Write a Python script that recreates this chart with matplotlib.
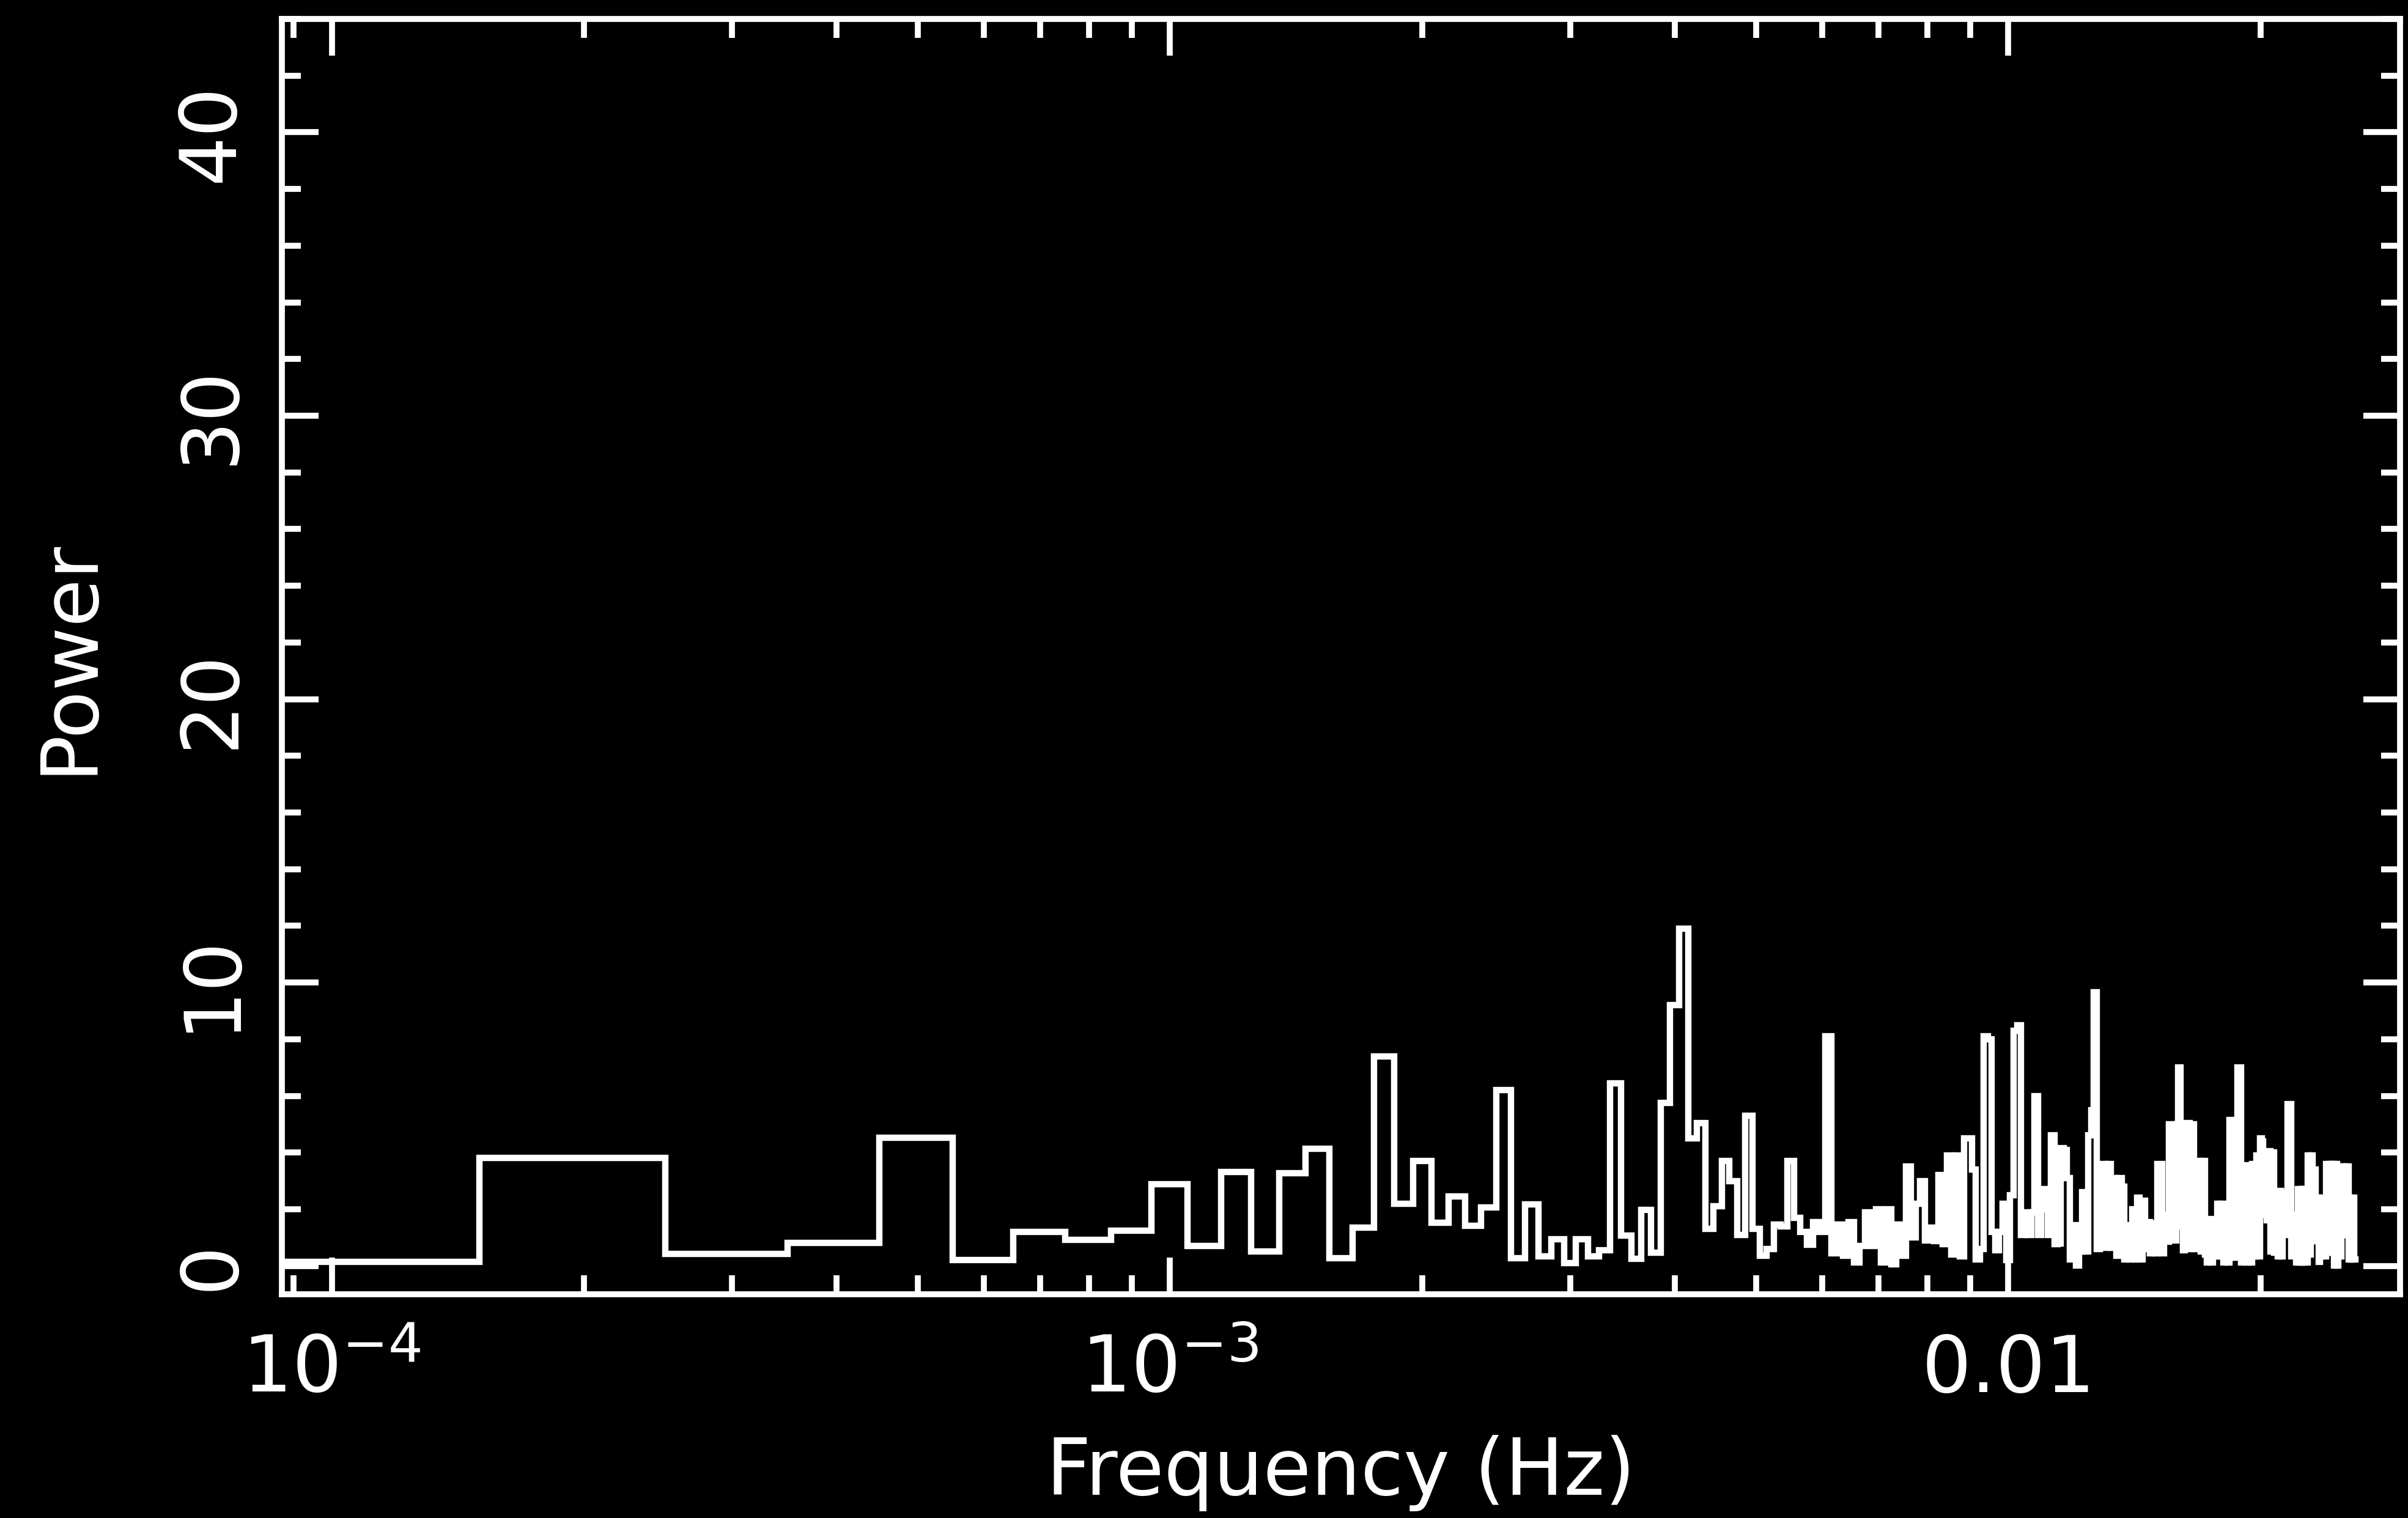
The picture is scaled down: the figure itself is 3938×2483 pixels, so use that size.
import numpy as np
import matplotlib.pyplot as plt
from matplotlib.ticker import FixedLocator, LogLocator, MultipleLocator, NullFormatter

plt.rcParams['font.family'] = ['DejaVu Sans']
plt.rcParams['mathtext.fontset'] = 'dejavusans'

# periodogram, frequency bins k * df (k = 1..259)
df = 1e-4

power_low = [0.15, 3.81, 0.42, 0.82, 4.53, 0.21, 1.20, 0.93, 1.25, 2.89,
             0.71, 3.32, 0.50, 3.27, 4.14, 0.28, 1.36, 7.39, 2.20, 3.70,
             1.52, 2.45, 1.41, 2.06, 6.21, 0.27, 2.18, 0.33, 0.95, 0.11,
             0.95, 0.33, 0.55, 6.44, 1.08, 0.25, 1.97, 0.47, 5.76, 9.20,
             11.91, 4.50, 5.05]

power_mid = [1.30, 2.10, 3.70, 3.00, 1.10, 5.30, 1.30, 0.35, 0.60, 1.45,
             1.40, 3.70, 1.70, 1.20, 0.75, 1.55, 1.20, 8.10, 0.45, 1.45,
             0.35, 1.55, 0.12, 0.70, 1.90, 0.70, 2.00, 0.12, 2.00, 0.05,
             1.45, 0.35, 3.50, 1.00, 2.20, 3.00, 0.90, 1.35, 0.87, 3.20,
             0.76, 3.90, 0.40, 3.90, 0.33, 4.50, 4.50, 3.40, 0.22, 0.60,
             8.10, 8.00, 1.20, 0.55, 1.20, 2.20, 0.20]

power_high = [2.50, 8.30, 8.50, 1.10, 1.90, 1.10, 1.90, 6.00, 1.10, 2.70,
              2.00, 1.10, 4.60, 0.76, 0.80, 4.15, 4.10, 3.10, 0.22, 1.44,
              0.01, 0.50, 2.60, 0.50, 4.60, 5.50, 9.65, 0.60, 2.00, 3.60,
              0.65, 3.60, 0.65, 3.10, 0.35, 3.10, 2.80, 0.22, 1.44, 0.22,
              2.00, 0.22, 2.40, 0.22, 2.30, 0.60, 1.55, 0.44, 1.50, 0.44,
              3.60, 3.60, 0.44, 1.80, 0.85, 5.00, 5.00, 0.90, 5.00, 7.00,
              1.40, 0.55, 5.05, 5.05, 0.60, 5.00, 0.60, 2.90, 3.70, 0.50,
              3.70, 0.40, 0.12, 1.65, 0.12, 1.60, 0.33, 2.20, 0.33, 2.20]

power_top = [0.12, 2.10, 0.12, 5.15, 0.30, 5.10, 0.30, 7.00, 7.00, 0.12,
             3.50, 3.55, 0.12, 3.50, 0.12, 3.60, 0.33, 3.90, 0.33, 4.50,
             4.40, 1.80, 4.00, 1.60, 4.05, 0.50, 4.00, 0.47, 2.30, 0.33,
             2.65, 0.33, 2.60, 1.10, 1.10, 5.70, 5.70, 0.33, 0.33, 1.80,
             0.12, 2.70, 0.12, 2.70, 0.12, 2.70, 0.12, 3.90, 0.40, 3.90,
             0.87, 3.40, 0.87, 2.40, 0.15, 2.40, 0.33, 2.30, 0.33, 3.60,
             0.47, 3.60, 0.47, 3.60, 0.01, 3.60, 0.01, 3.00, 0.33, 3.50,
             1.10, 3.50, 1.10, 3.50, 0.22, 2.40, 0.22, 2.40, 0.22]

xtick_vals = [1e-4, 1e-3, 1e-2]
xtick_labels = [r'$\mathregular{10^{-4}}$', r'$\mathregular{10^{-3}}$', '0.01']

power = np.array(power_low + power_mid + power_high + power_top)
freq = np.arange(1, len(power) + 1) * df
edges = np.append(freq - df / 2, freq[-1] + df / 2)

fig = plt.figure(figsize=(39.38, 24.83), dpi=100, facecolor='black')
ax = fig.add_axes([0.11706, 0.1474, 0.87964, 0.84012])
ax.set_facecolor('black')

ax.stairs(power, edges, baseline=None, color='white', linewidth=7.5,
          joinstyle='miter', capstyle='projecting')

ax.set_xscale('log')
ax.set_xlim(8.72e-5, 0.02933)
ax.set_ylim(-1, 44)

ax.xaxis.set_major_locator(FixedLocator(xtick_vals))
ax.set_xticklabels(xtick_labels)
ax.xaxis.set_minor_locator(LogLocator(base=10, subs=np.arange(2, 10), numticks=20))
ax.xaxis.set_minor_formatter(NullFormatter())
ax.yaxis.set_major_locator(MultipleLocator(10))
ax.yaxis.set_minor_locator(MultipleLocator(2))

ax.tick_params(which='both', direction='in', top=True, right=True,
               color='white', width=7, labelcolor='white', labelsize=92)
ax.tick_params(which='major', length=43)
ax.tick_params(which='minor', length=22)
ax.tick_params(axis='x', which='major', pad=115)
ax.tick_params(axis='y', which='major', pad=38, labelrotation=90)
for lbl in ax.get_xticklabels():
    lbl.set_verticalalignment('baseline')
for lbl in ax.get_yticklabels():
    lbl.set_verticalalignment('center')
    lbl.set_horizontalalignment('right')

for sp in ax.spines.values():
    sp.set_color('white')
    sp.set_linewidth(7)

ax.set_xlabel('Frequency (Hz)', fontsize=92, color='white')
ax.xaxis.label.set_verticalalignment('baseline')
ax.xaxis.set_label_coords(0.5, -0.1572)
ax.set_ylabel('Power', fontsize=92, color='white')
ax.yaxis.set_label_coords(-0.0823, 0.5)

fig.savefig('out.png', dpi=100, facecolor='black')
